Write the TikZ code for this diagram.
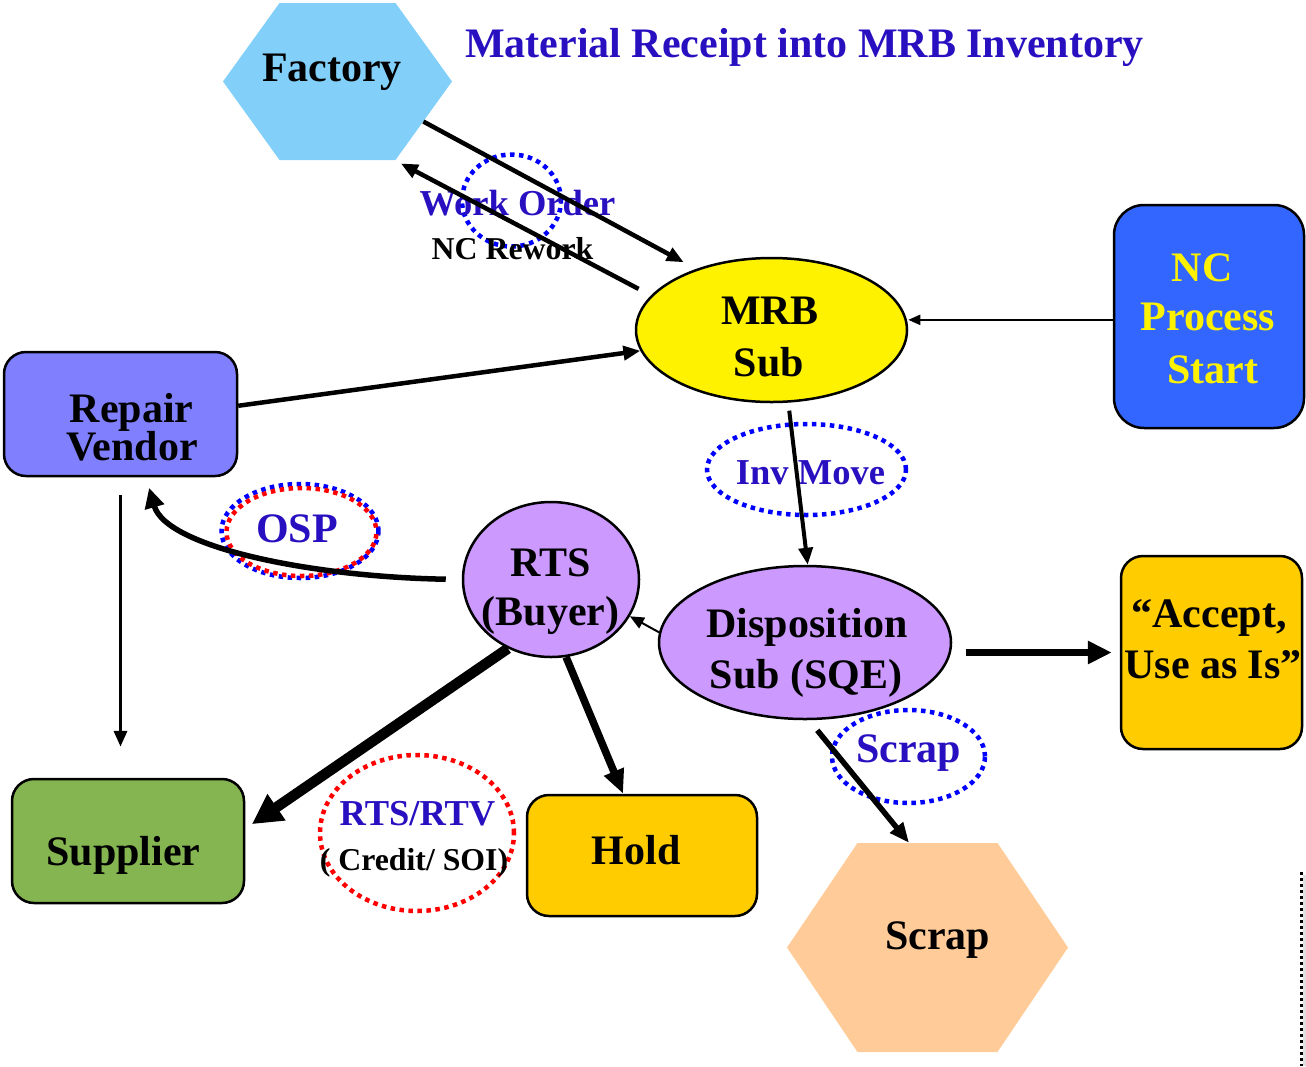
\documentclass[tikz,border=0pt]{standalone}
\usepackage{fontspec}
\setmainfont{Liberation Serif}
\usetikzlibrary{arrows.meta,shapes.geometric,shapes.symbols}
\definecolor{factoryblue}{RGB}{130,208,250}
\definecolor{labelblue}{RGB}{40,16,192}
\definecolor{ncblue}{RGB}{51,102,255}
\definecolor{vendorblue}{RGB}{128,128,255}
\definecolor{lilac}{RGB}{204,153,255}
\definecolor{gold}{RGB}{255,204,0}
\definecolor{leaf}{RGB}{132,181,80}
\definecolor{peach}{RGB}{255,204,153}
\newcommand{\txtbig}{\fontsize{42}{48}\selectfont\bfseries}
\newcommand{\txtmid}{\fontsize{36.5}{42}\selectfont\bfseries}
\newcommand{\txtsmall}{\fontsize{31.8}{36}\selectfont\bfseries}
\begin{document}
\begin{tikzpicture}[x=1pt,y=-1pt,
  box/.style={draw,line width=2.5pt,rounded corners=22pt,inner sep=0pt},
  oval/.style={ellipse,draw,line width=2.5pt,inner sep=0pt},
  hexa/.style={signal,signal to=west and east,draw=none,inner sep=0pt},
  ring/.style={ellipse,draw=blue,line width=4.5pt,dash pattern=on 4.5pt off 4.5pt,inner sep=0pt},
  txt/.style={anchor=base,font=\txtbig},
  lbl/.style={anchor=base,font=\txtmid,text=labelblue},
  arr/.style={-{Triangle[length=17pt,width=14pt]},line width=4.5pt},
  arrlight/.style={-{Triangle[length=12pt,width=10pt]},line width=2pt},
  arrheavy/.style={-{Triangle[length=24pt,width=22pt]},line width=7.5pt}]
\useasboundingbox (0,0) rectangle (1306,1066);
% shapes
\node[hexa,fill=factoryblue,signal pointer angle=108.5,minimum width=229pt,minimum height=157pt] (factory) at (337.5,81.5) {};
\node[oval,fill=yellow,minimum width=271pt,minimum height=144pt] (mrb) at (771.5,330) {};
\node[box,fill=ncblue,rounded corners=30pt,minimum width=190pt,minimum height=223pt] (nc) at (1209,316.5) {};
\node[box,fill=vendorblue,minimum width=233pt,minimum height=124pt] (repair) at (120.5,414) {};
\node[oval,fill=lilac,minimum width=176pt,minimum height=155pt] (rts) at (551,579.5) {};
\node[oval,fill=lilac,minimum width=292pt,minimum height=153pt] (disp) at (805,642.5) {};
\node[box,fill=gold,minimum width=181pt,minimum height=193pt] (accept) at (1211.5,652.5) {};
\node[box,fill=leaf,minimum width=232pt,minimum height=124pt] (supplier) at (128,841) {};
\node[box,fill=gold,minimum width=230pt,minimum height=121pt] (hold) at (642,855.5) {};
\node[hexa,fill=peach,signal pointer angle=112,minimum width=281pt,minimum height=209pt] (scrap) at (927.5,947.5) {};
% dotted rings
\node[ring,minimum width=99pt,minimum height=92pt] (workring) at (511.5,200.5) {};
\node[ring,minimum width=199pt,minimum height=91pt] (invring) at (806.5,469.5) {};
\node[ring,minimum width=157pt,minimum height=94pt] (ospring) at (300,531) {};
\node[ring,draw=red,dash phase=4.5pt,minimum width=150pt,minimum height=88pt] (ospring2) at (301.5,532) {};
\node[ring,draw=red,minimum width=194pt,minimum height=156pt] (rtvring) at (417,833) {};
\node[ring,minimum width=153pt,minimum height=93pt] (scrapring) at (908.5,756.5) {};
% texts
\node[txt] (factorytxt) at (332,81) {Factory};
\node[txt,text=labelblue] (title) at (804.5,57) {Material Receipt into MRB Inventory};
\node[txt] (mrbtxt) at (770,324) {MRB};
\node[txt] (mrbtxt2) at (769,376) {Sub};
\node[txt,text=yellow] (nctxt) at (1202,281) {NC};
\node[txt,text=yellow] (nctxt2) at (1208,330) {Process};
\node[txt,text=yellow] (nctxt3) at (1213,383) {Start};
\node[txt] (repairtxt) at (131.5,422) {Repair};
\node[txt] (repairtxt2) at (132,460) {Vendor};
\node[txt] (rtstxt) at (551,576) {RTS};
\node[txt] (rtstxt2) at (550.5,625) {(Buyer)};
\node[txt] (disptxt) at (807,637) {Disposition};
\node[txt] (disptxt2) at (806,688) {Sub (SQE)};
\node[txt] (accepttxt) at (1209,627) {“Accept,};
\node[txt] (accepttxt2) at (1213,678) {Use as Is”};
\node[txt] (suppliertxt) at (123.5,865) {Supplier};
\node[txt] (holdtxt) at (636,864) {Hold};
\node[txt] (scraptxt) at (937.5,949) {Scrap};
\node[lbl] (worklbl) at (517.5,215) {Work Order};
\node[lbl,font=\txtsmall,text=black] (reworklbl) at (512.5,259) {NC Rework};
\node[lbl] (invlbl) at (810.5,484) {Inv Move};
\node[lbl,font=\txtbig] (osplbl) at (297,542) {OSP};
\node[lbl] (rtvlbl) at (417.5,825) {RTS/RTV};
\node[lbl,font=\txtsmall,text=black] (creditlbl) at (414,870) {( Credit/ SOI)};
\node[lbl,font=\txtbig] (scraplbl) at (908.5,762) {Scrap};
% page edge
\fill[black!12] (1303,875) rectangle (1306,1066);
\draw[line width=3pt,dash pattern=on 3pt off 3pt] (1301,872) -- (1301,1066);
\path
  (factory.-25.5) edge[arr,shorten >=14pt] (mrb.141)
  (mrb.164.5) edge[arr,shorten <=14pt,shorten >=7pt] (factory.-54)
  (nc.182) edge[arrlight] (nc.182 -| mrb.east)
  (repair.4) edge[arr] (mrb.189)
  (mrb.-77.7) edge[arr,line width=4pt,shorten <=8pt] (disp.88)
  (rts.west) edge[arr,line width=5.5pt,-{Triangle[length=20pt,width=19pt]},out=179,in=-74,out distance=150pt,in distance=73pt,shorten <=16pt,shorten >=11pt] (repair.-68)
  (repair.south) edge[arr,line width=3.5pt,-{Triangle[length=16pt,width=13pt]},shorten <=18pt,shorten >=31pt] (repair.south |- supplier.north)
  (disp.176) edge[arrlight,-{Triangle[length=14pt,width=12pt]}] (rts.-25)
  (accept.west -| disp.east) edge[arrheavy,shorten <=14pt,shorten >=8pt] (accept.west)
  (rts.-122) edge[line width=10.5pt,-{Triangle[length=30pt,width=30pt]},shorten >=8pt] (supplier.6)
  (rts.-79) edge[arrheavy,-{Triangle[length=24pt,width=20pt]}] (hold.107)
  (disp.-87) edge[arr,line width=5.5pt,-{Triangle[length=20pt,width=16pt]},shorten <=13pt] (scrap.100)
;
\end{tikzpicture}
\end{document}
